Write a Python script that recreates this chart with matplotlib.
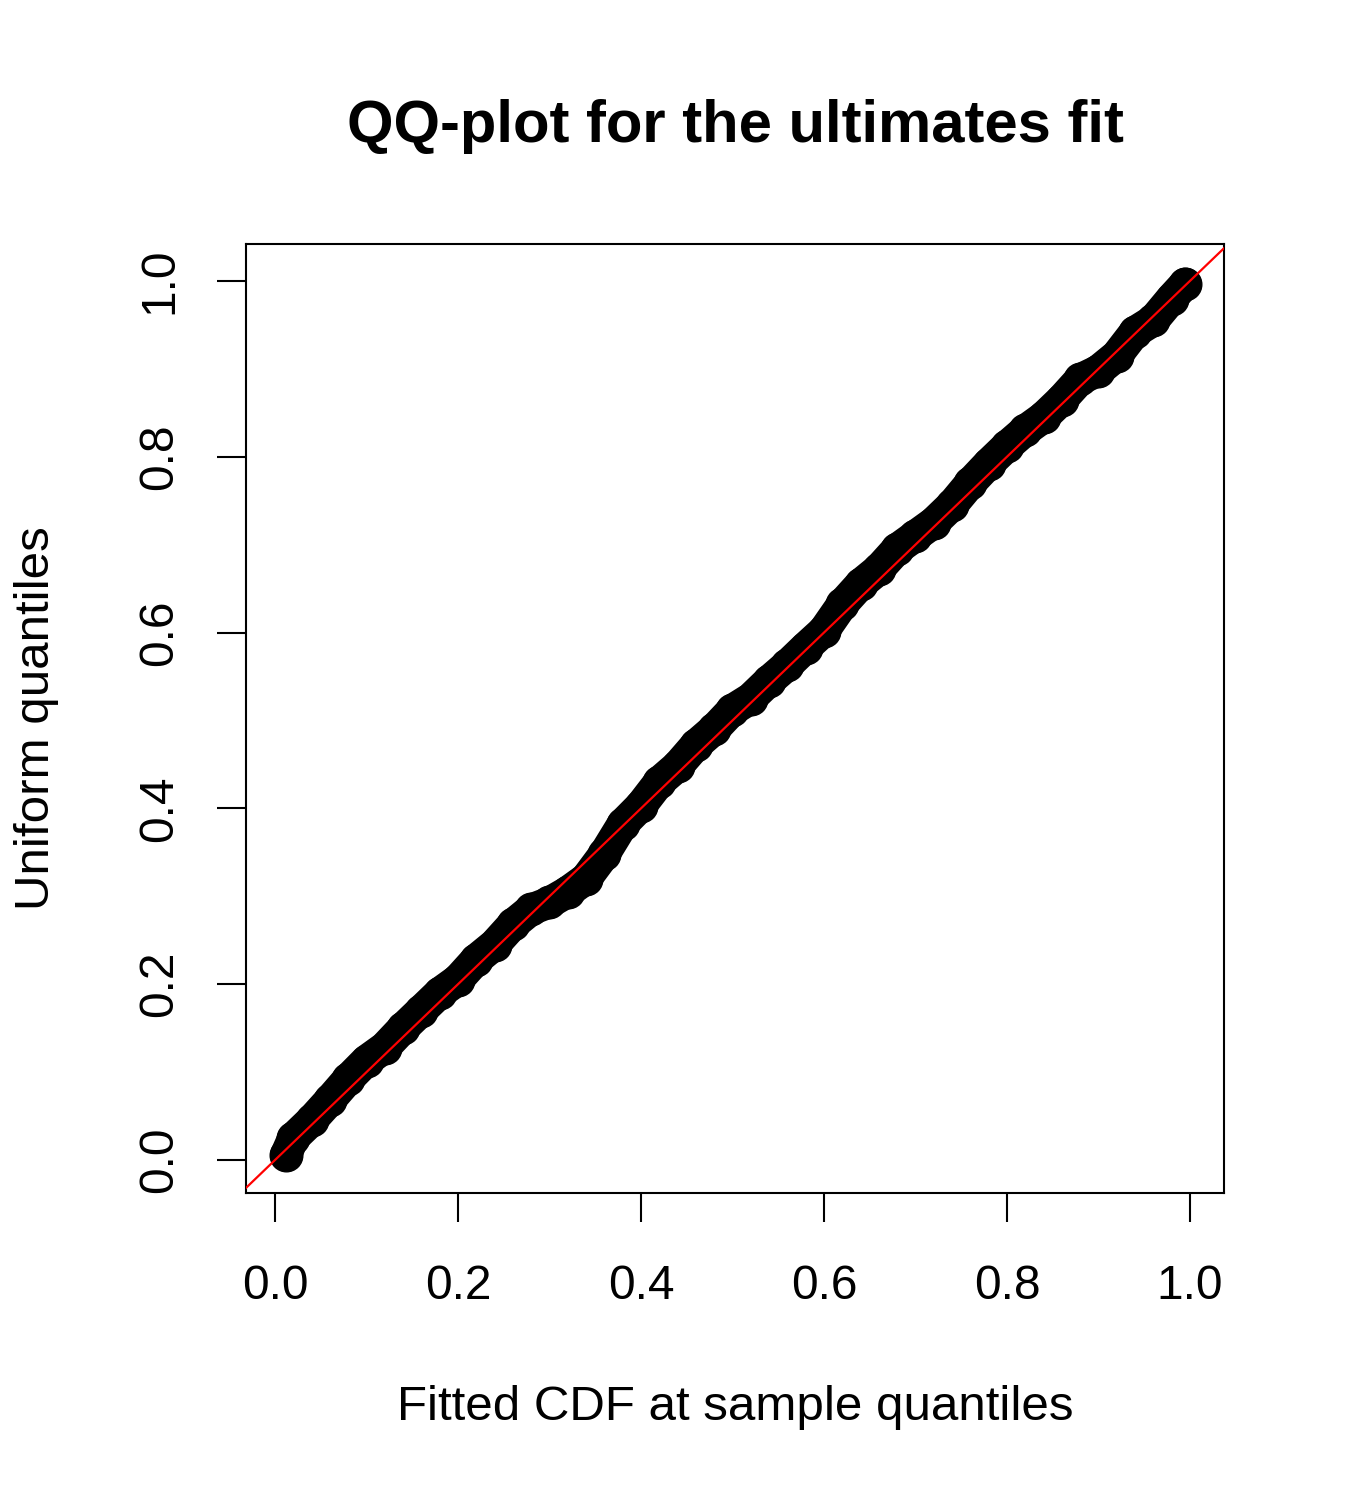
import matplotlib
matplotlib.use("Agg")
import matplotlib.pyplot as plt

# Fitted CDF at sample quantiles (x) vs uniform quantiles (y)
fitted_cdf = [0.012, 0.02, 0.04, 0.06, 0.08, 0.10, 0.12, 0.14, 0.16, 0.18,
              0.20, 0.22, 0.24, 0.26, 0.28, 0.30, 0.32, 0.34, 0.36, 0.38,
              0.40, 0.42, 0.44, 0.46, 0.48, 0.50, 0.52, 0.54, 0.56, 0.58,
              0.60, 0.62, 0.64, 0.66, 0.68, 0.70, 0.72, 0.74, 0.76, 0.78,
              0.80, 0.82, 0.84, 0.86, 0.88, 0.90, 0.92, 0.94, 0.96, 0.98, 0.995]
uniform_q = [0.006, 0.025, 0.045, 0.068, 0.092, 0.113, 0.128, 0.150, 0.170, 0.190,
             0.205, 0.228, 0.245, 0.268, 0.285, 0.293, 0.305, 0.320, 0.348, 0.382,
             0.403, 0.430, 0.448, 0.472, 0.490, 0.512, 0.525, 0.545, 0.563, 0.583,
             0.602, 0.632, 0.655, 0.672, 0.695, 0.710, 0.725, 0.745, 0.770, 0.792,
             0.812, 0.830, 0.845, 0.865, 0.888, 0.898, 0.915, 0.942, 0.955, 0.980, 0.997]

xticks = [0.0, 0.2, 0.4, 0.6, 0.8, 1.0]
yticks = [0.0, 0.2, 0.4, 0.6, 0.8, 1.0]
tick_labels = ["0.0", "0.2", "0.4", "0.6", "0.8", "1.0"]

plt.rcParams['font.family'] = ['Liberation Sans', 'DejaVu Sans']

W, H = 1350, 1500
fig = plt.figure(figsize=(W / 100, H / 100), dpi=100)
ax = fig.add_axes([246 / W, 1 - 1193 / H, (1224 - 246) / W, (1193 - 244) / H])

ax.plot(fitted_cdf, uniform_q, color='black', linewidth=23,
        solid_capstyle='round', solid_joinstyle='round', zorder=2)
ax.plot(fitted_cdf, uniform_q, 'o', color='black', markersize=23.5, zorder=2)
ax.axline((0, 0), slope=1, color='red', linewidth=1.6, zorder=3)

ax.set_xlim(-0.0317, 1.0372)
ax.set_ylim(-0.0375, 1.042)

ax.set_xticks(xticks)
ax.set_xticklabels(tick_labels)
ax.set_yticks(yticks)
ax.set_yticklabels(tick_labels, rotation=90, va='center')
ax.tick_params(axis='both', length=21, width=1.5, labelsize=34.5, color='black')
ax.tick_params(axis='x', pad=30)
ax.tick_params(axis='y', pad=25)
for s in ax.spines.values():
    s.set_linewidth(1.5)

fig.text(735 / W, 1 - 127 / H, "QQ-plot for the ultimates fit", ha='center', va='center',
         fontsize=43, fontweight='bold')
fig.text(735 / W, 1 - 1407 / H, "Fitted CDF at sample quantiles", ha='center', va='center',
         fontsize=35.5)
fig.text(37 / W, 1 - 718 / H, "Uniform quantiles", ha='center', va='center',
         fontsize=35.5, rotation=90)

fig.savefig("out.png", dpi=100, facecolor='white')
